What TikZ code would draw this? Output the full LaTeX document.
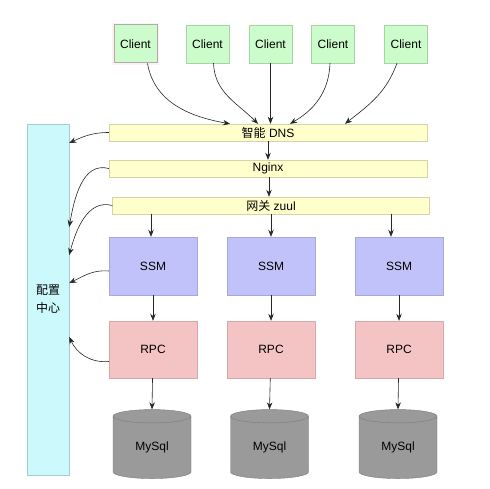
\documentclass[tikz,border=0pt]{standalone}
\usepackage{fontspec}
\setmainfont{Liberation Sans}
\newfontfamily\cjk{Noto Sans CJK SC}
\usetikzlibrary{shapes.geometric,arrows.meta}
\definecolor{clientfill}{HTML}{CCFCCC}
\definecolor{clientline}{HTML}{A8D4A0}
\definecolor{barfill}{HTML}{FFFFCC}
\definecolor{barline}{HTML}{D4D4A8}
\definecolor{ssmfill}{HTML}{C2C2FA}
\definecolor{ssmline}{HTML}{A8A8D8}
\definecolor{rpcfill}{HTML}{F4C4C4}
\definecolor{rpcline}{HTML}{D8A8A8}
\definecolor{cfgfill}{HTML}{CCFAFC}
\definecolor{cfgline}{HTML}{A8CCCC}
\definecolor{dbfill}{HTML}{9A9A9A}
\definecolor{dbline}{HTML}{7A7A7A}

\begin{document}
\begin{tikzpicture}[x=1pt,y=1pt,>={Stealth[length=7pt,width=5.5pt]},font=\fontsize{12}{14}\selectfont,
    client/.style={rectangle,draw=clientline,fill=clientfill,minimum width=43pt,minimum height=38pt,inner sep=0pt},
    picked/.style={draw=gray!65,line width=1pt,preaction={draw=pink!25,line width=4pt}},
    bar/.style={rectangle,draw=barline,fill=barfill,minimum width=318pt,minimum height=17pt,inner sep=0pt},
    ssm/.style={rectangle,draw=ssmline,fill=ssmfill,minimum width=88pt,minimum height=58pt,inner sep=0pt},
    rpc/.style={rectangle,draw=rpcline,fill=rpcfill,minimum width=88pt,minimum height=57pt,inner sep=0pt},
    db/.style={cylinder,shape border rotate=90,aspect=0.4,draw=dbline,fill=dbfill,minimum width=78pt,minimum height=69pt,inner sep=0pt},
    link/.style={->,black!85,line width=0.6pt}]
    \useasboundingbox (0,0) rectangle (490,488);

    % clients
    \node[client,picked] (c1) at (135.5,444) {Client};
    \node[client] (c2) at (207.5,444) {Client};
    \node[client] (c3) at (270.5,444) {Client};
    \node[client] (c4) at (333,444) {Client};
    \node[client] (c5) at (406,444) {Client};

    % gateway layers
    \node[bar] (dns) at (268,355.5) {{\cjk 智能} DNS};
    \node[bar] (nginx) at (268,319.5) {Nginx};
    \node[bar,minimum width=317pt] (zuul) at (271,282.5) {{\cjk 网关} zuul};

    % config center
    \node[rectangle,draw=cfgline,fill=cfgfill,minimum width=42pt,minimum height=351pt,align=center,font=\cjk\fontsize{12}{18}\selectfont] (cfg) at (48,188.5) {配置\\中心};

    % services
    \node[ssm] (s1) at (153,222) {SSM};
    \node[ssm] (s2) at (271,222) {SSM};
    \node[ssm] (s3) at (399,222) {SSM};

    \node[rpc] (r1) at (153,138.5) {RPC};
    \node[rpc] (r2) at (271,138.5) {RPC};
    \node[rpc] (r3) at (399,138.5) {RPC};

    \node[db] (m1) at (152,40.5) {MySql};
    \node[db] (m2) at (269.5,40.5) {MySql};
    \node[db] (m3) at (398,40.5) {MySql};

    \path[link]
        ([xshift=12pt]c1.south) edge[out=-80,in=170] ([xshift=-38pt]dns.north)
        ([xshift=6pt]c2.south) edge[out=-88,in=135] ([xshift=-10pt]dns.north)
        (c3.south) edge ([xshift=2.5pt]dns.north)
        ([xshift=-3pt]c4.south) edge[out=-92,in=30] ([xshift=22pt]dns.north)
        ([xshift=-9pt]c5.south) edge[out=-110,in=38] ([xshift=77pt]dns.north)

        (dns.south) edge (nginx.north)
        ([xshift=1pt]nginx.south) edge ([xshift=1pt]nginx.south |- zuul.north)

        ([xshift=-2pt]s1.north |- zuul.south) edge ([xshift=-2pt]s1.north)
        (s2.north |- zuul.south) edge (s2.north)
        ([xshift=-8pt]s3.north |- zuul.south) edge ([xshift=-8pt]s3.north)

        (s1) edge (r1)
        (s2) edge (r2)
        (s3) edge (r3)

        (r1) edge (m1.top)
        (r2) edge (m2.top)
        (r3) edge (m3.top)

        (dns.west) edge[out=180,in=25] ([yshift=156.5pt]cfg.east)
        (nginx.west) edge[out=165,in=80] ([yshift=72.5pt]cfg.east)
        (zuul.west) edge[out=165,in=75] ([yshift=44.5pt]cfg.east)
        ([yshift=-5pt]s1.west) edge[out=175,in=25] ([yshift=16.5pt]cfg.east)
        ([yshift=-12pt]r1.west) edge[out=185,in=-65] ([yshift=-37.5pt]cfg.east)
        ;
\end{tikzpicture}
\end{document}
